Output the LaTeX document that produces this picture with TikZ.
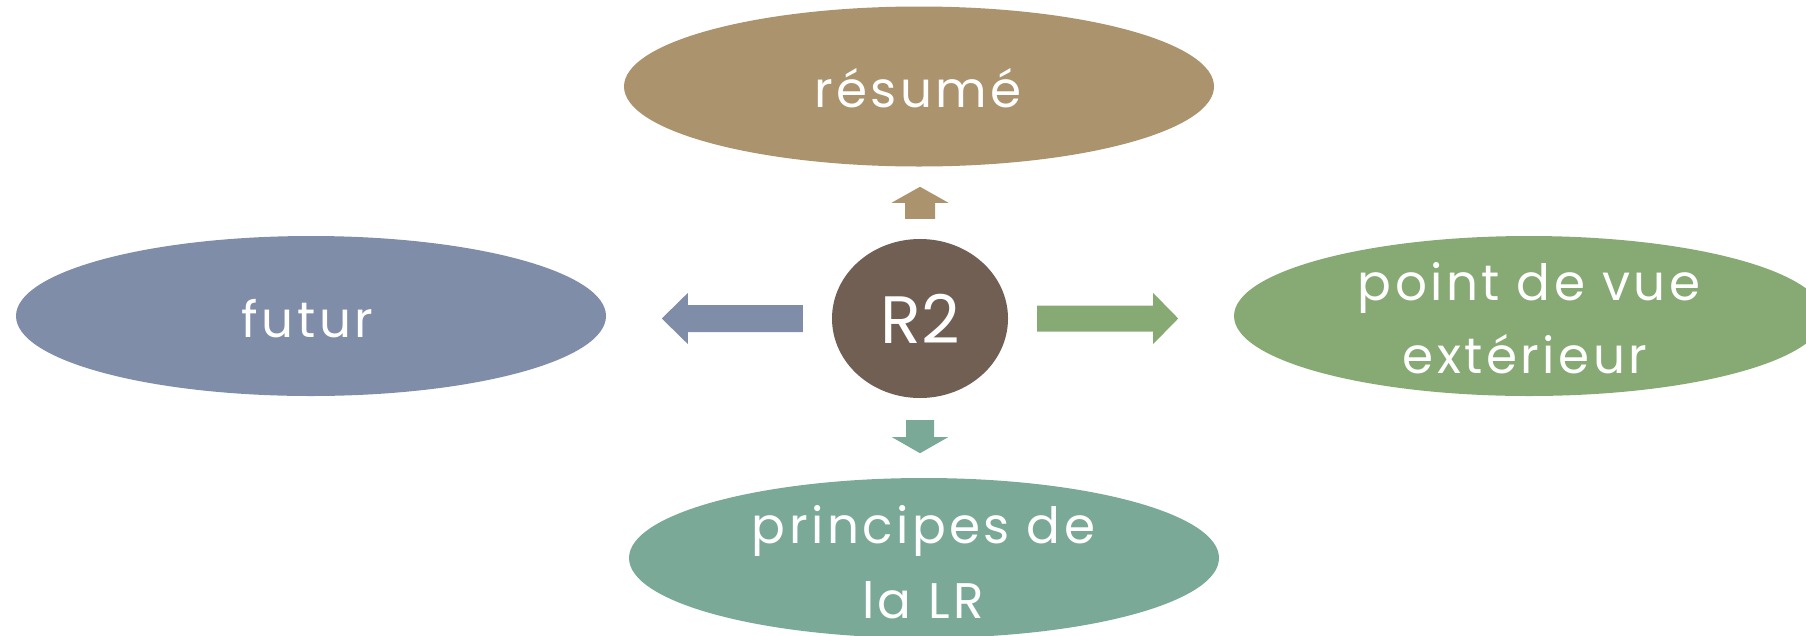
\documentclass[tikz,border=0pt]{standalone}
\usepackage{fontspec}
\setmainfont{Poppins}[LetterSpace=7]
\newfontfamily\rtwofont{Poppins}[LetterSpace=0]
\usetikzlibrary{shapes.geometric,calc}
\definecolor{cTan}{HTML}{AB936E}
\definecolor{cBrown}{HTML}{705F52}
\definecolor{cBlue}{HTML}{7F8DA8}
\definecolor{cGreen}{HTML}{87AA75}
\definecolor{cTeal}{HTML}{7BA998}
% color, start, angle, length, shaft width, head length, head width
\newcommand\blkarrow[7]{%
  \fill[#1, shift={#2}, rotate=#3] (0,{-#5/2}) -- ({#4-#6},{-#5/2}) -- ({#4-#6},{-#7/2}) -- (#4,0)
    -- ({#4-#6},{#7/2}) -- ({#4-#6},{#5/2}) -- (0,{#5/2}) -- cycle;}
\begin{document}
\begin{tikzpicture}[x=1pt,y=1pt,
  bubble/.style={ellipse, inner sep=0pt, minimum width=590pt, minimum height=160pt},
  lab/.style={text=white, font=\fontsize{50}{68}\selectfont, inner sep=0pt, anchor=base, align=center},
]
\clip (0,0) rectangle (1806,-635);
\useasboundingbox (0,0) rectangle (1806,-635);

\node[bubble, fill=cTan] (res) at (919,-86.5) {};
\node[bubble, fill=cBlue] (fut) at (311,-316) {};
\node[bubble, fill=cGreen] (pv) at (1529,-316) {};
\node[bubble, fill=cTeal] (pr) at (924,-558) {};

\node[lab] (rest) at (918,-107) {résumé};
\node[lab] (futt) at (307.5,-337) {futur};
\node[lab] (pvt1) at (1529,-300) {point de vue};
\node[lab] (pvt2) at (1525,-373) {extérieur};
\node[lab] (prt1) at (923.5,-543) {principes de};
\node[lab] (prt2) at (923,-618) {la LR};

\node[ellipse, fill=cBrown, minimum width=176pt, minimum height=159pt, inner sep=0pt,
  text=white, font=\rtwofont\fontsize{67}{80}\selectfont] (c) at (920,-318.5) {R2};

\coordinate (la) at ($(c.west)+(-29,0)$);
\coordinate (ra) at ($(c.east)+(29,0)$);
\coordinate (ua) at ($(c.north)+(0,20)$);
\coordinate (da) at ($(c.south)+(0,-22)$);

\blkarrow{cBlue}{(la)}{180}{141}{27}{26}{51}
\blkarrow{cGreen}{(ra)}{0}{141}{26}{25}{51}
\blkarrow{cTan}{(ua)}{90}{32}{30}{16}{57}
\blkarrow{cTeal}{(da)}{-90}{33}{28}{16}{56}
\end{tikzpicture}
\end{document}
